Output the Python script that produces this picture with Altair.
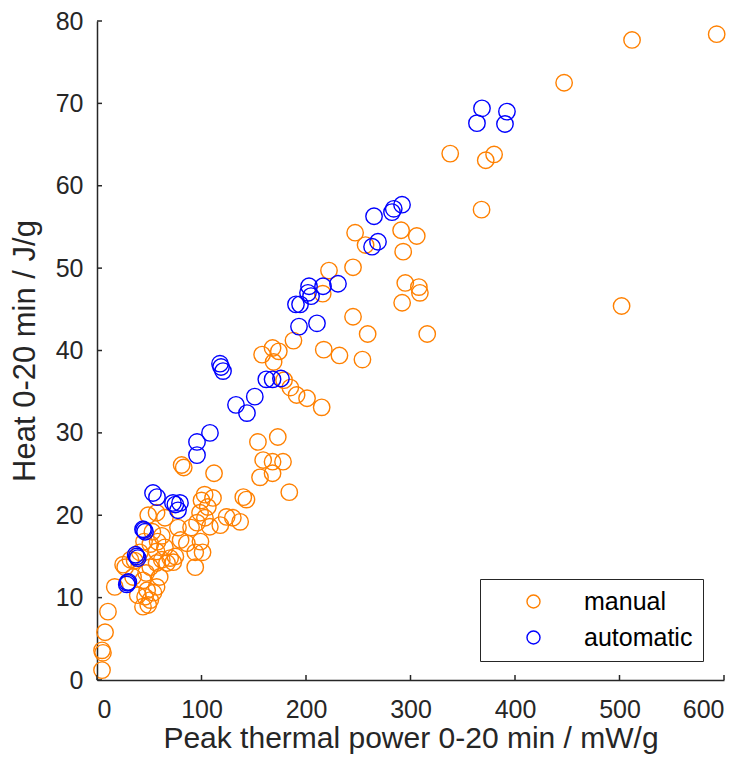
import altair as alt
import pandas as pd

# ---- data ----
manual_x = [593, 512, 447, 338, 372, 380, 368, 502,
            247, 257, 291, 306, 293, 245, 222, 295, 308, 309, 292, 245, 259, 316, 232, 254, 217, 216,
            188, 158, 168, 174, 169, 179, 185, 191, 201, 215,
            81, 83, 112, 154, 173, 159, 168, 178, 156, 168, 184, 140, 143,
            77.5, 95.7, 98.6, 103.3, 108, 106, 111, 103, 57, 65, 49, 124, 130, 137, 118, 100, 90,
            58, 65, 70, 62, 51, 57, 94, 86, 94, 101, 99, 80, 75, 62, 53, 45, 41,
            10.5, 7.7, 4.8, 5.7, 4.8, 17, 27, 32, 34.5, 44, 48, 46, 51, 54, 57, 49, 44,
            25, 51, 57, 67, 73, 60, 39, 47, 36]
manual_y = [78.4, 77.7, 72.5, 63.9, 63.1, 63.8, 57.1, 45.4,
            54.3, 52.8, 54.6, 53.9, 52.0, 50.1, 49.7, 48.2, 47.7, 47.0, 45.8, 44.1, 42.0, 42.0, 39.4, 38.9, 40.1, 46.9,
            41.2, 39.5, 40.3, 39.9, 38.6, 36.4, 35.5, 34.6, 34.2, 33.1,
            26.1, 25.8, 25.1, 28.9, 29.5, 26.7, 26.5, 26.5, 24.6, 25.1, 22.8, 22.2, 21.9,
            18.5, 19.1, 20.3, 19.7, 18.6, 21.0, 22.1, 22.5, 20.3, 19.7, 20.0, 19.8, 19.7, 19.2, 18.8, 21.8, 18.5,
            16.8, 16.1, 14.8, 14.6, 16.5, 15.6, 13.7, 16.6, 15.5, 15.5, 16.8, 17.0, 15.0, 17.5, 18.0, 16.8, 15.5,
            8.3, 5.8, 3.6, 3.3, 1.2, 11.3, 13.7, 14.6, 12.5, 12.1, 10.9, 10.1, 9.7, 10.6, 11.3, 9.1, 8.9,
            14.0, 13.7, 14.2, 14.2, 14.3, 12.5, 10.3, 13.0, 14.5]

auto_x = [368.4, 363.6, 392.3, 390.4,
          265.1, 282.3, 284, 291.9, 268.9, 263.2, 230.6,
          202.9, 216.3, 201.9, 204.8, 190.4, 194.3, 193.3, 210.5,
          118.7, 120.6, 117.7,
          162, 168, 176,
          133, 143.5, 151,
          95.7, 108.1, 95.7,
          53.6, 57.4, 72.7, 79.4, 77.5, 75,
          45, 46, 44,
          38, 39, 37,
          29, 30, 28.5]
auto_y = [69.4, 67.6, 69.0, 67.5,
          56.3, 56.8, 57.2, 57.7, 53.2, 52.6, 48.1,
          47.8, 47.8, 47.0, 46.6, 45.6, 45.6, 42.9, 43.3,
          38.0, 37.5, 38.4,
          36.5, 36.5, 36.6,
          33.4, 32.4, 34.4,
          28.9, 30.0, 27.3,
          22.7, 22.2, 21.5, 21.5, 20.6, 21.3,
          18.2, 18.0, 18.3,
          15.0, 14.8, 15.2,
          11.8, 11.9, 11.6]

groups = ["manual", "automatic"]
x_ticks = [0, 100, 200, 300, 400, 500, 600]
y_ticks = [0, 10, 20, 30, 40, 50, 60, 70, 80]
x_title = "Peak thermal power 0-20 min / mW/g"
y_title = "Heat 0-20 min / J/g"

# ---- layout ----
W, H = 627, 659
AX = "#262626"
FONT = "Liberation Sans"
FS = 25
TICK_PX = 5

df = pd.DataFrame({
    "power": manual_x + auto_x,
    "heat": manual_y + auto_y,
    "method": [groups[0]] * len(manual_x) + [groups[1]] * len(auto_x),
})

xscale = alt.Scale(domain=[x_ticks[0], x_ticks[-1]], nice=False, zero=False)
yscale = alt.Scale(domain=[y_ticks[0], y_ticks[-1]], nice=False, zero=False)
xaxis = alt.Axis(values=x_ticks, title=x_title, ticks=False, grid=False,
                 labelPadding=17, titlePadding=1, titleFontSize=30)
yaxis = alt.Axis(values=y_ticks, title=y_title, ticks=False, grid=False,
                 labelPadding=14, titlePadding=14, titleFontSize=31)

points = alt.Chart(df).mark_point(
    shape="circle", filled=False, size=270, strokeWidth=1.4, opacity=1
).encode(
    x=alt.X("power:Q", scale=xscale, axis=xaxis),
    y=alt.Y("heat:Q", scale=yscale, axis=yaxis),
    color=alt.Color("method:N",
                    scale=alt.Scale(domain=groups, range=["#FF8000", "#0000FF"]),
                    legend=alt.Legend(title=None, orient="none", legendX=383, legendY=558,
                                      padding=10, symbolOffset=31, labelOffset=38,
                                      rowPadding=10, symbolType="circle", symbolSize=170,
                                      symbolStrokeWidth=1.4, symbolFillColor="transparent",
                                      labelFontSize=FS, labelFont=FONT, labelColor="#000000",
                                      strokeColor=AX, fillColor="#ffffff")),
)

xlen = TICK_PX * (x_ticks[-1] - x_ticks[0]) / W
ylen = TICK_PX * (y_ticks[-1] - y_ticks[0]) / H

ydf = pd.DataFrame({"power": [0] * len(y_ticks), "p2": [xlen] * len(y_ticks), "heat": y_ticks})
xdf = pd.DataFrame({"power": x_ticks, "heat": [0] * len(x_ticks), "h2": [ylen] * len(x_ticks)})

yt = alt.Chart(ydf).mark_rule(color=AX, strokeWidth=1.5).encode(
    x=alt.X("power:Q", scale=xscale, axis=xaxis), x2="p2:Q",
    y=alt.Y("heat:Q", scale=yscale, axis=yaxis))
xt = alt.Chart(xdf).mark_rule(color=AX, strokeWidth=1.5).encode(
    x=alt.X("power:Q", scale=xscale, axis=xaxis),
    y=alt.Y("heat:Q", scale=yscale, axis=yaxis), y2="h2:Q")

chart = alt.layer(points, yt, xt).properties(
    width=W, height=H,
    autosize=alt.AutoSizeParams(type="none"),
    padding={"left": 89, "top": 13, "right": 17, "bottom": 78},
    background="#ffffff",
).configure_view(stroke=None).configure_axis(
    domainColor=AX, domainWidth=1.5,
    labelFont=FONT, labelFontSize=FS, labelColor=AX,
    titleFont=FONT, titleColor=AX, titleFontWeight="normal",
)

chart.save("out.html", embed_options={"renderer": "svg", "actions": False})
